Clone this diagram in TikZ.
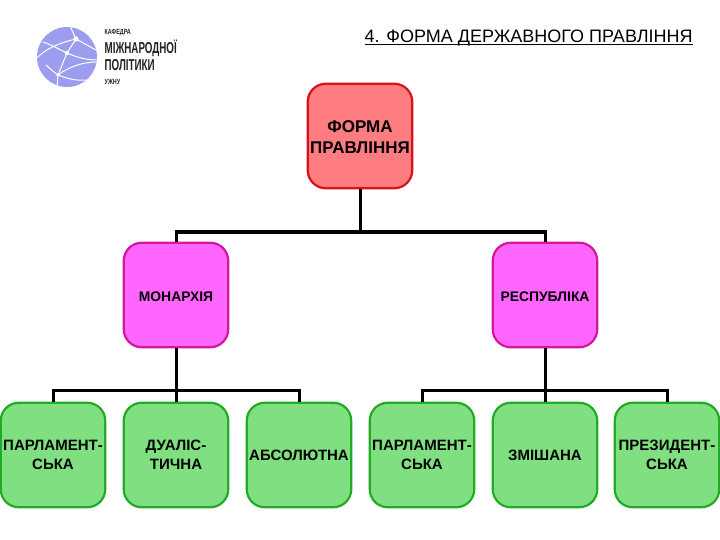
\documentclass[tikz,border=0pt]{standalone}
\usepackage{fontspec}
\setmainfont{Liberation Sans}
\newcommand{\lowertext}[2]{\raisebox{-#1}[\height][\depth]{#2}}
\begin{document}
\begin{tikzpicture}[x=1pt,y=1pt,
  base/.style={rounded corners=18pt,minimum width=104.5pt,minimum height=104.5pt,line width=2.2pt,align=center,inner sep=0pt,text=black,font=\bfseries\fontsize{15}{19}\selectfont},
  rootbox/.style={base,draw=rootedge,fill=rootfill,font=\bfseries\fontsize{17}{21}\selectfont},
  midbox/.style={base,draw=midedge,fill=midfill,font=\bfseries\fontsize{13.9}{16}\selectfont},
  leafbox/.style={base,draw=leafedge,fill=leaffill},
  link/.style={draw=black,line width=3pt},
  globeline/.style={draw=white,line width=1pt},
  logotext/.style={anchor=west,inner sep=0pt,text=logoink,font=\bfseries}]
\definecolor{rootedge}{HTML}{D81218}
\definecolor{rootfill}{HTML}{FF7C80}
\definecolor{midedge}{HTML}{D4189C}
\definecolor{midfill}{HTML}{FF66FF}
\definecolor{leafedge}{HTML}{22AC26}
\definecolor{leaffill}{HTML}{80DF80}
\definecolor{logofill}{HTML}{9C9DEE}
\definecolor{logoink}{HTML}{222222}
\useasboundingbox (0,0) rectangle (720,-540);
\fill[white] (0,0) rectangle (720,-540);
% logo
\fill[logofill] (67,-57) circle (30);
\begin{scope}
\clip (67,-57) circle (30);
\draw[globeline] (76,-39) -- (70,-26);
\draw[globeline] (76,-39) -- (96,-50);
\draw[globeline] (67,-53) -- (76,-39);
\draw[globeline] (43,-42) .. controls (52,-45) and (60,-50) .. (67,-53);
\draw[globeline] (67,-53) .. controls (76,-57) and (86,-60) .. (97,-60);
\draw[globeline] (37,-58) .. controls (44,-50) and (58,-43) .. (76,-39);
\draw[globeline] (67,-53) .. controls (64,-60) and (61,-68) .. (58,-75);
\draw[globeline] (46,-65) .. controls (50,-69) and (54,-72) .. (58,-75);
\draw[globeline] (58,-75) .. controls (70,-66) and (84,-62) .. (97,-62);
\draw[globeline] (58,-75) .. controls (66,-78) and (74,-81) .. (86,-80);
\draw[globeline] (58,-75) -- (57,-88);
\end{scope}
\fill[white] (76,-39) circle (2.6);
\fill[white] (67,-53) circle (2.2);
\fill[white] (58,-75) circle (1.8);
\node[logotext,xscale=.72] (logoa) at (104.5,-32.5) {\fontsize{7.5}{8}\selectfont КАФЕДРА};
\node[logotext,xscale=.62] (logob) at (104.5,-48) {\fontsize{15.8}{17}\selectfont МІЖНАРОДНОЇ};
\node[logotext,xscale=.62] (logoc) at (104.5,-65) {\fontsize{15.8}{17}\selectfont ПОЛІТИКИ};
\node[logotext,xscale=.72] (logod) at (104.5,-81.5) {\fontsize{7.5}{8}\selectfont УЖНУ};
% title
\node[anchor=base west,inner sep=0pt] (title) at (364.5,-42.5) {\fontsize{18}{20}\selectfont 4. ФОРМА ДЕРЖАВНОГО ПРАВЛІННЯ};
\draw[line width=1.2pt] (title.base west) ++(0,-2) -- ([yshift=-2pt]title.base east);
% nodes
\node[rootbox] (root) at (360,-136) {\lowertext{1pt}{ФОРМА}\\\lowertext{1pt}{ПРАВЛІННЯ}};
\node[midbox] (mon) at (176,-295) {\lowertext{1.5pt}{МОНАРХІЯ}};
\node[midbox] (rep) at (545,-295) {\lowertext{1.5pt}{РЕСПУБЛІКА}};
\node[leafbox] (a) at (53,-455) {ПАРЛАМЕНТ-\\СЬКА};
\node[leafbox] (b) at (176,-455) {ДУАЛІС-\\ТИЧНА};
\node[leafbox] (c) at (299,-455) {АБСОЛЮТНА};
\node[leafbox] (d) at (422,-455) {ПАРЛАМЕНТ-\\СЬКА};
\node[leafbox] (e) at (545,-455) {ЗМІШАНА};
\node[leafbox] (f) at (667,-455) {ПРЕЗИДЕНТ-\\СЬКА};
% buses
\coordinate (bus0) at (360,-232);
\coordinate (bus1) at (176,-390);
\coordinate (bus2) at (545,-390);
\draw[link] (root.south) -- (bus0);
\draw[link] (mon.north) |- (bus0);
\draw[link] (rep.north) |- (bus0);
\draw[link] (mon.south) -- (b.north);
\draw[link] (a.north) |- (bus1);
\draw[link] (c.north) |- (bus1);
\draw[link] (rep.south) -- (e.north);
\draw[link] (d.north) |- (bus2);
\draw[link] (f.north) |- (bus2);
\end{tikzpicture}
\end{document}
